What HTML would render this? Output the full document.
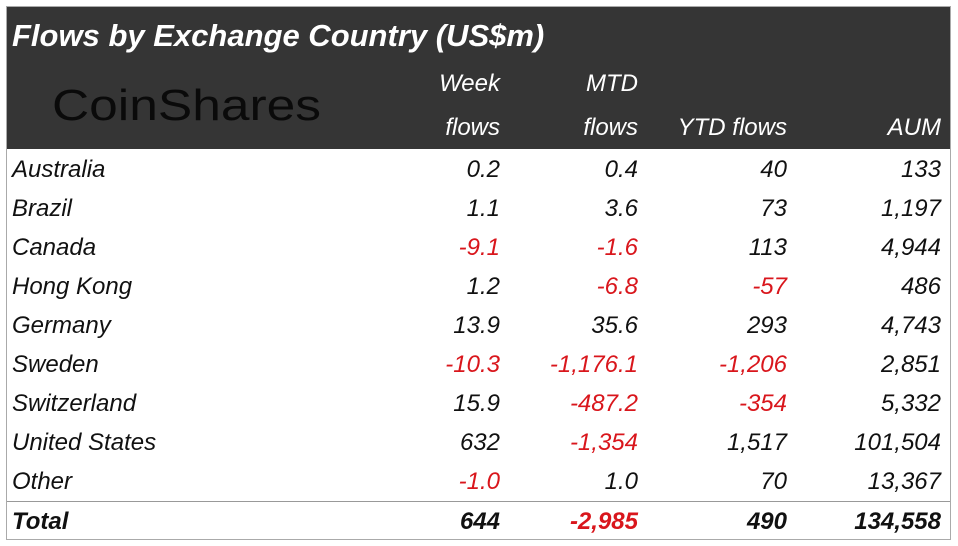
<!DOCTYPE html>
<html><head><style>
body{margin:0;width:958px;height:546px;background:#fff;position:relative;overflow:hidden;font-family:"Liberation Sans",sans-serif;font-style:italic;}
.frame{position:absolute;left:6px;top:6px;width:945px;height:534px;border:1px solid #aaa;box-sizing:border-box;}
.hdr{position:absolute;left:7px;top:7px;width:943px;height:142px;background:#353535;}
.t{position:absolute;white-space:nowrap;font-size:24px;line-height:24px;color:#111;}
.r{text-align:right;}
.red{color:#d9161c;}
.w{color:#fff;}
.b{font-weight:bold;}
</style></head><body>
<div class="frame"></div>
<div class="hdr"></div>
<div class="t w b" style="left:12px;top:19px;font-size:31px;line-height:34px;">Flows by Exchange Country (US$m)</div>
<div class="t" style="left:52px;top:83px;font-size:44px;line-height:46px;font-style:normal;color:#0a0a0a;transform:scaleX(1.17);transform-origin:0 0;">CoinShares</div>
<div class="t w r" style="right:458px;top:72px;">Week</div>
<div class="t w r" style="right:458px;top:116px;">flows</div>
<div class="t w r" style="right:320px;top:72px;">MTD</div>
<div class="t w r" style="right:320px;top:116px;">flows</div>
<div class="t w r" style="right:171px;top:116px;">YTD flows</div>
<div class="t w r" style="right:17px;top:116px;">AUM</div>
<div style="position:absolute;left:7px;top:501px;width:943px;height:1px;background:#999;"></div>
<div id="rows"></div>
<script>
const d=[["Australia","0.2","0.4","40","133"],["Brazil","1.1","3.6","73","1,197"],["Canada","-9.1","-1.6","113","4,944"],["Hong Kong","1.2","-6.8","-57","486"],["Germany","13.9","35.6","293","4,743"],["Sweden","-10.3","-1,176.1","-1,206","2,851"],["Switzerland","15.9","-487.2","-354","5,332"],["United States","632","-1,354","1,517","101,504"],["Other","-1.0","1.0","70","13,367"],["Total","644","-2,985","490","134,558"]];
const rights=[458,320,171,17];let h="";
d.forEach((r,i)=>{const top=158+i*39+(i==9?1:0);const b=i==9?" b":"";
h+=`<div class="t${b}" style="left:12px;top:${top}px">${r[0]}</div>`;
for(let j=1;j<5;j++){const neg=r[j][0]=="-";h+=`<div class="t r${b}${neg?" red":""}" style="right:${rights[j-1]}px;top:${top}px">${r[j]}</div>`;}});
document.getElementById("rows").innerHTML=h;
</script>
</body></html>
